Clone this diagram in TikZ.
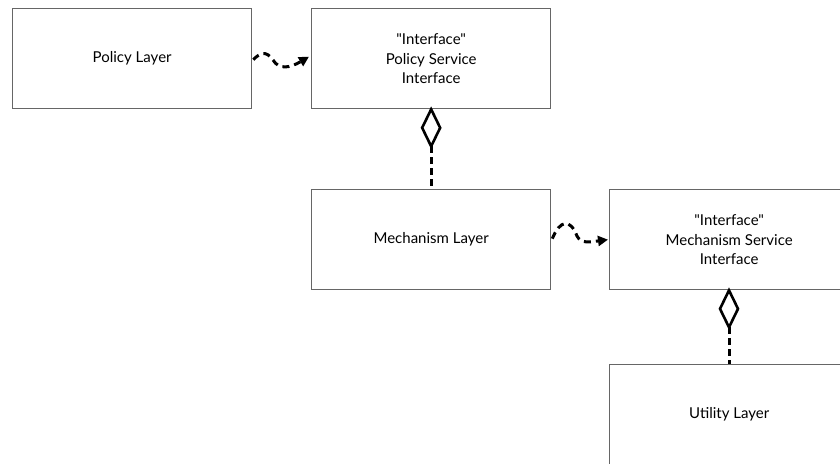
\documentclass[tikz,border=0pt]{standalone}
\usepackage{fontspec}
\newfontfamily\latofont{Lato}
\usetikzlibrary{arrows.meta}
\begin{document}
\begin{tikzpicture}[x=1pt,y=-1pt,
  box/.style={draw=black!60,line width=1.3pt,fill=white,minimum width=239pt,minimum height=100pt,inner sep=0pt,align=center,font=\latofont\fontsize{15}{19.5}\selectfont},
  dep/.style={line width=3pt,dash pattern=on 7pt off 5pt,-{Triangle[length=10pt,width=10pt]}},
  agg/.style={line width=3pt,dash pattern=on 7pt off 4pt},
  diam/.style={draw=black,line width=2.6pt,fill=white,line join=miter}]
\useasboundingbox (0,0) rectangle (840,463);
\clip (0,0) rectangle (840,463);
\fill[white] (0,0) rectangle (840,463);
\node[box,anchor=north west] (pl) at (12,8) {Policy Layer};
\node[box,anchor=north west] (psi) at (311,8) {"Interface"\\Policy Service\\Interface};
\node[box,anchor=north west] (ml) at (311,189) {Mechanism Layer};
\node[box,anchor=north west] (msi) at (609,189) {"Interface"\\Mechanism Service\\Interface};
\node[box,anchor=north west] (ul) at (609,364) {Utility Layer};
% dependency arrows
\draw[dep] ([xshift=1pt,yshift=-1pt]pl.east) .. controls (260,53) and (266,50) .. (273,60) .. controls (279,70) and (290,68) .. ([xshift=-2pt,yshift=2pt]psi.west);
\draw[dep] ([xshift=1pt,yshift=1pt]ml.east) .. controls (560,220) and (570,218) .. (577,236) .. controls (581,244) and (590,242) .. ([xshift=-1pt]msi.west);
% aggregation diamonds
\coordinate (d1t) at (psi.south);
\coordinate (d1b) at ([yshift=-37pt]psi.south);
\draw[agg] (d1b) -- (ml.north);
\draw[diam] (d1t) -- ++(9,18.5) -- (d1b) -- ++(-9,-18.5) -- cycle;
\coordinate (d2t) at ([xshift=120pt]msi.south west);
\coordinate (d2b) at ([xshift=120pt,yshift=-37pt]msi.south west);
\draw[agg] (d2b) -- (d2b |- ul.north);
\draw[diam] (d2t) -- ++(9,18.5) -- (d2b) -- ++(-9,-18.5) -- cycle;
\end{tikzpicture}
\end{document}
